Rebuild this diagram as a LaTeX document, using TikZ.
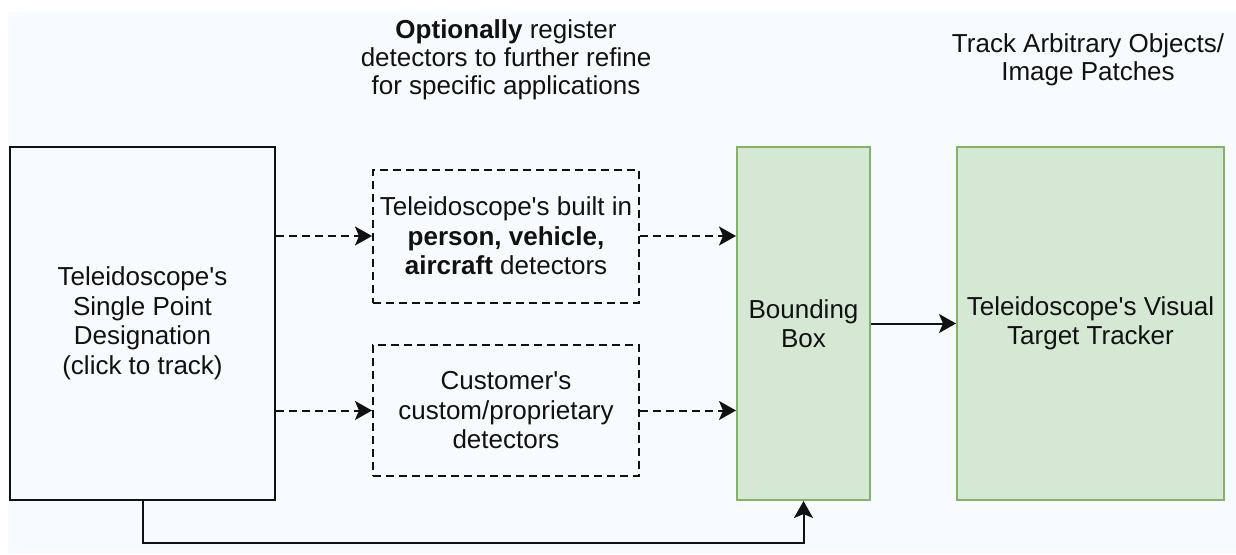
\documentclass[tikz,border=0pt]{standalone}
\usepackage{fontspec}
\setmainfont{Liberation Sans}[Ligatures=TeXOff]
\usetikzlibrary{arrows.meta}
\definecolor{bg}{HTML}{F7FBFD}
\definecolor{gfill}{HTML}{D5E8D4}
\definecolor{gline}{HTML}{82B366}
\definecolor{ink}{HTML}{111111}
\begin{document}
\begin{tikzpicture}[x=1pt,y=-1pt,
  boxtext/.style={inner sep=0pt, align=center, text=ink,
    font=\fontsize{26}{29.5}\selectfont},
  toptext/.style={inner sep=0pt, align=center, text=ink,
    font=\fontsize{26}{28}\selectfont},
  blk/.style={boxtext, draw=ink, line width=2pt},
  dbox/.style={boxtext, draw=ink, line width=2pt, dash pattern=on 8pt off 5pt},
  gbox/.style={boxtext, draw=gline, fill=gfill, line width=2pt},
  tip/.style={-{Stealth[length=17pt,width=19pt,inset=4pt]}},
  darr/.style={tip, draw=ink, line width=2pt, dash pattern=on 8pt off 5pt},
  sarr/.style={tip, draw=ink, line width=2pt}
]
\useasboundingbox (0,0) rectangle (1236,554);
\fill[bg] (8,12) rectangle (1236,554);

\node[blk, minimum width=265pt, minimum height=353pt] (spd) at (142.5,323.5)
  {Teleidoscope's\\Single Point\\Designation\\(click to track)};
\node[dbox, minimum width=266pt, minimum height=133pt] (bi) at (506,236)
  {Teleidoscope's built in\\\textbf{person, vehicle,}\\\textbf{aircraft} detectors};
\node[dbox, minimum width=266pt, minimum height=131pt] (cu) at (506,410.5)
  {Customer's\\custom/proprietary\\detectors};
\node[gbox, minimum width=133pt, minimum height=353pt] (bb) at (803.5,323.5)
  {Bounding\\Box};
\node[gbox, minimum width=267pt, minimum height=353pt] (vt) at (1090.5,323.5)
  {Teleidoscope's Visual\\Target Tracker};

\node[toptext] (opt) at (506,60)
  {\textbf{Optionally} register\\detectors to further refine\\for specific applications};
\node[toptext] (tao) at (1088,60)
  {Track Arbitrary Objects/\\Image Patches};

\coordinate (low) at (0,543);

\draw[darr] (spd.east |- bi.west) -- (bi.west);
\draw[darr] (bi.east) -- (bb.west |- bi.east);
\draw[darr] (spd.east |- cu.west) -- (cu.west);
\draw[darr] (cu.east) -- (bb.west |- cu.east);
\draw[sarr] (bb.east) -- (vt.west);
\draw[sarr] (spd.south) -- (spd.south |- low) -| (bb.south);
\end{tikzpicture}
\end{document}
